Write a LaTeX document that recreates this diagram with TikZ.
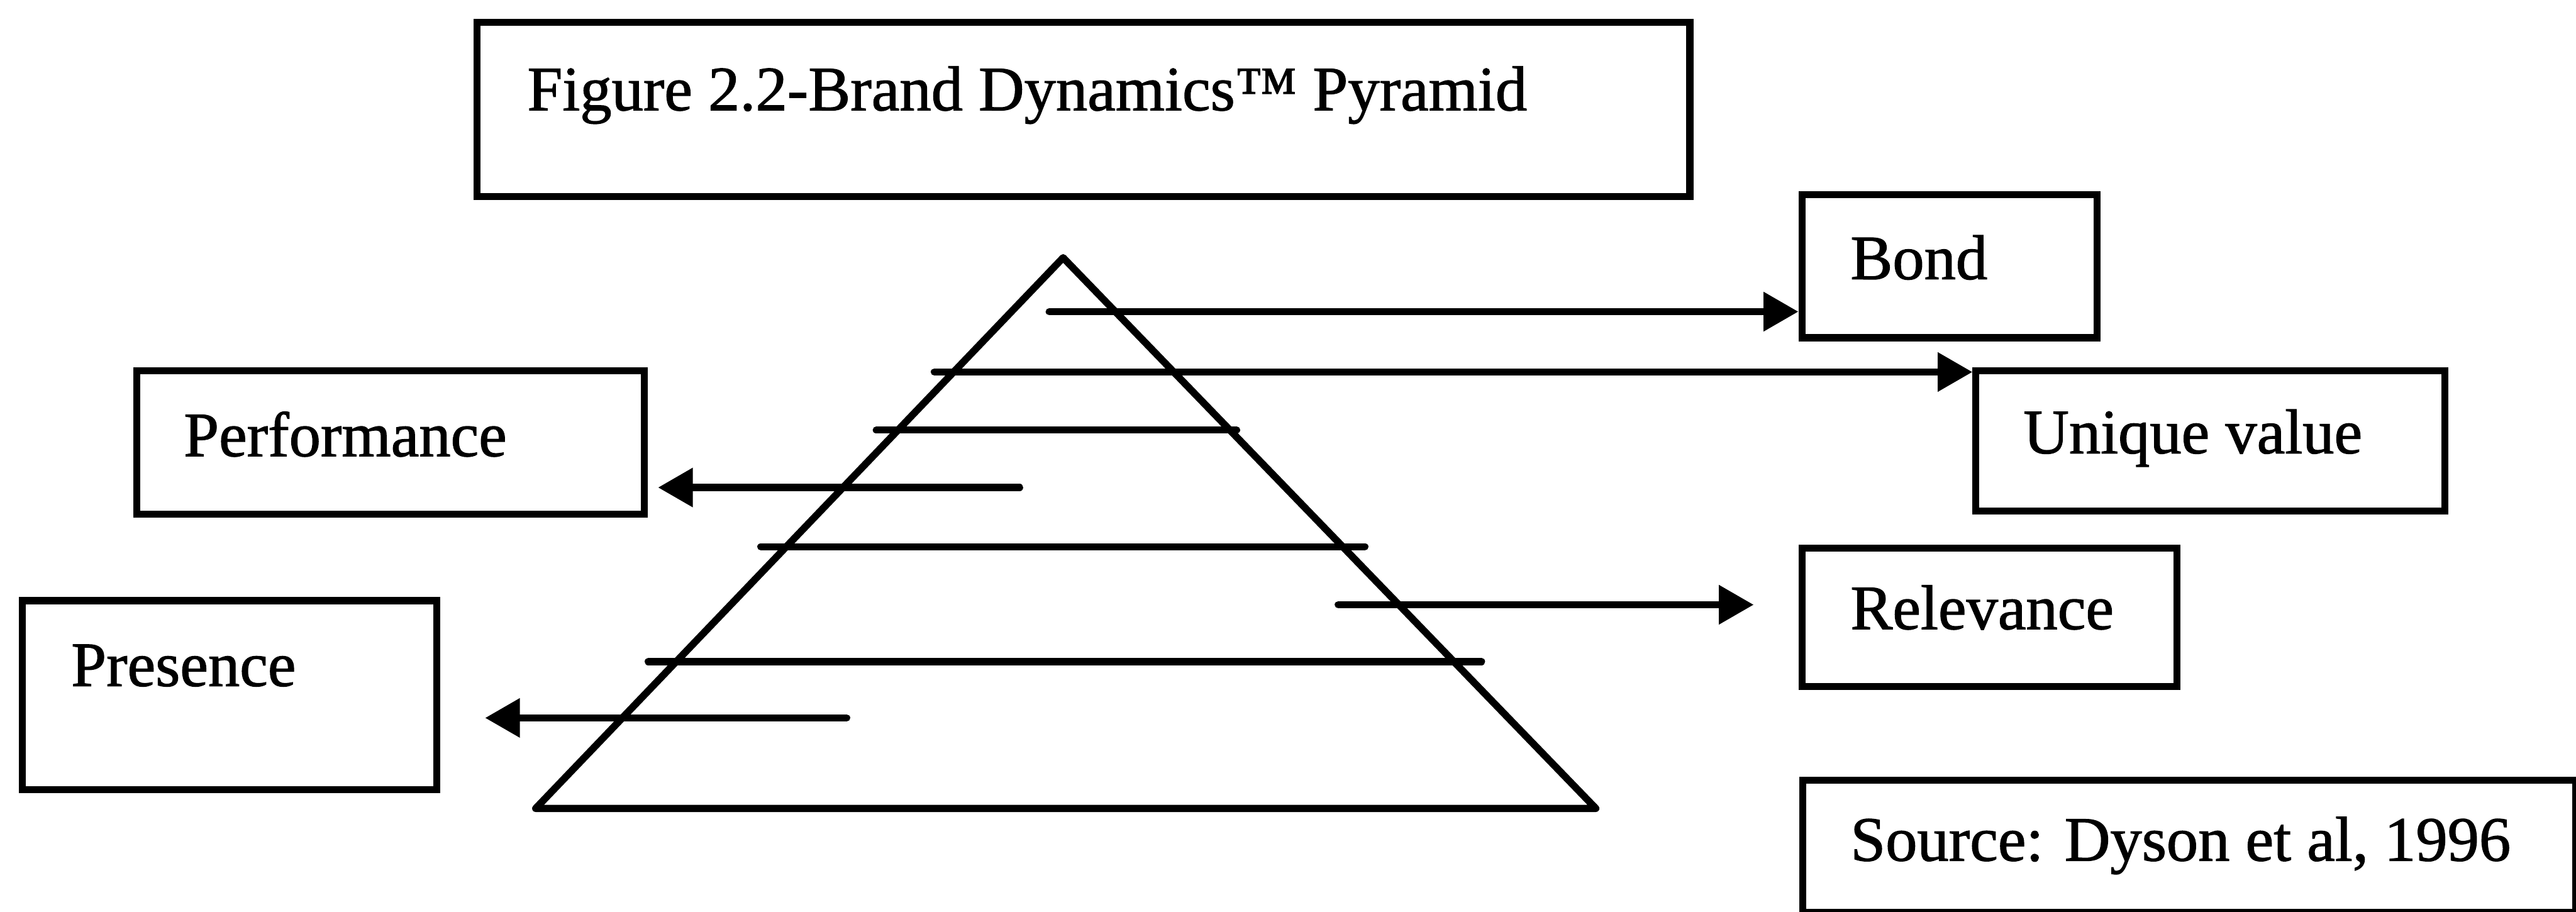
\documentclass[tikz,border=0pt]{standalone}
\usepackage{fontspec}
\setmainfont{Liberation Serif}[RawFeature={embolden=1.2}]
\usetikzlibrary{arrows.meta}
\tikzset{
  box/.style={draw, line width=3.4pt, anchor=north west, inner sep=0pt},
  lbl/.style={anchor=base west, inner sep=0pt, font=\fontsize{31}{37}\selectfont},
  rung/.style={line width=3.5pt, line cap=round},
  pointer/.style={rung, -{Triangle[length=6mm,width=6.5mm]}},
}
\begin{document}
\begin{tikzpicture}
\useasboundingbox (0,0) rectangle (44.39,-15.71);
% --- Title ---
\node[box, minimum width=20.90cm, minimum height=3.01cm] (title) at (8.16,-0.32) {};
\node[lbl] (titletext) at (9.08,-1.90) {Figure 2.2-Brand Dynamics™ Pyramid};
% --- Level boxes ---
\node[box, minimum width=5.09cm, minimum height=2.47cm] (bond) at (30.99,-3.29) {};
\node[lbl] (bondtext) at (31.88,-4.81) {Bond};
\node[box, minimum width=8.08cm, minimum height=2.42cm] (unique) at (33.99,-6.33) {};
\node[lbl] (uniquetext) at (34.86,-7.81) {Unique value};
\node[box, minimum width=8.74cm, minimum height=2.47cm] (perf) at (2.30,-6.33) {};
\node[lbl] (perftext) at (3.16,-7.86) {Performance};
\node[box, minimum width=6.46cm, minimum height=2.38cm] (rel) at (30.99,-9.39) {};
\node[lbl] (reltext) at (31.88,-10.84) {Relevance};
\node[box, minimum width=7.14cm, minimum height=3.26cm] (pres) at (0.33,-10.29) {};
\node[lbl] (prestext) at (1.22,-11.82) {Presence};
% --- Source ---
\node[box, minimum width=13.31cm, minimum height=2.28cm] (source) at (31.01,-13.38) {};
\node[lbl] (sourcetext) at (31.88,-14.83) {Source: Dyson et al, 1996};
% --- Pyramid ---
\coordinate (apex) at (18.32,-4.44);
\coordinate (baseL) at (9.23,-13.93);
\coordinate (baseR) at (27.50,-13.93);
\draw[rung, line join=round] (apex) -- (baseL) -- (baseR) -- cycle;
% Plain rungs
\foreach \y/\xa/\xb in {7.41/15.10/21.31, 9.42/13.11/23.52, 11.40/11.17/25.53}
  \draw[rung] (\xa,-\y) -- (\xb,-\y);
% --- Arrows out of the pyramid ---
\coordinate (bondfrom) at (18.08,-5.37);
\coordinate (uniquefrom) at (16.10,-6.41);
\coordinate (perffrom) at (17.57,-8.40);
\coordinate (relfrom) at (23.06,-10.42);
\coordinate (presfrom) at (14.59,-12.37);
\draw[pointer] (bondfrom) -- (bondfrom -| bond.west);
\draw[pointer] (uniquefrom) -- (uniquefrom -| unique.west);
\draw[pointer, shorten >=0.18cm] (perffrom) -- (perffrom -| perf.east);
\draw[pointer, shorten >=0.77cm] (relfrom) -- (relfrom -| rel.west);
\draw[pointer, shorten >=0.77cm] (presfrom) -- (presfrom -| pres.east);
\end{tikzpicture}
\end{document}
